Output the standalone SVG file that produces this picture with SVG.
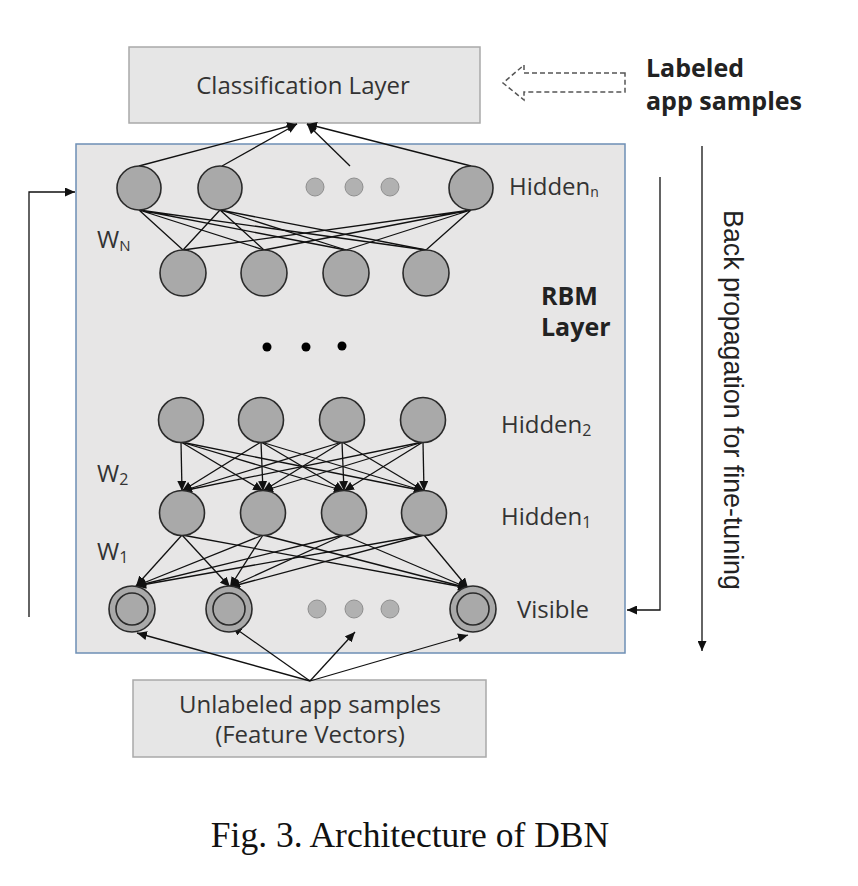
<svg xmlns="http://www.w3.org/2000/svg" width="858" height="886" viewBox="0 0 858 886">
<style>
.box{fill:#e6e6e6;stroke:#a9a9a9;stroke-width:1.5}
.rbm{fill:#e7e6e6;stroke:#6e8fb5;stroke-width:1.5}
.node{fill:#a9a9a9;stroke:#2a2a2a;stroke-width:1.6}
.dot{fill:#b1b1b1;stroke:#8f8f8f;stroke-width:1}
.e{stroke:#111;stroke-width:1.3;fill:none}
.ea{stroke:#111;stroke-width:1.3;fill:none;marker-end:url(#ah)}
.lbl{font-family:"Open Sans","Noto Sans",sans-serif;fill:#333;font-size:24px}
.bold{font-family:"Open Sans","Noto Sans",sans-serif;fill:#222;font-size:25px;font-weight:bold}
</style>
<defs>
<marker id="ah" markerUnits="userSpaceOnUse" markerWidth="11" markerHeight="9" refX="10" refY="4.5" orient="auto">
<path d="M0,0 L10,4.5 L0,9 z" fill="#111"/>
</marker>
</defs>

<g id="rbm-layer">
<rect class="rbm" x="76" y="144" width="549" height="509"/>
<text class="bold" x="541" y="305">RBM</text>
<text class="bold" x="541" y="336">Layer</text>
</g>

<g id="classification-layer">
<rect class="box" x="129" y="47" width="351" height="76"/>
<text class="lbl" x="303" y="94" text-anchor="middle" font-size="26">Classification Layer</text>
</g>

<g id="labeled-samples">
<polygon points="625,73 524,73 524,65 503,83 524,100 524,92 625,92" fill="none" stroke="#555" stroke-width="1.5" stroke-dasharray="5,3"/>
<text class="bold" x="646" y="77">Labeled</text>
<text class="bold" x="646" y="110">app samples</text>
</g>

<g id="unlabeled-samples">
<rect class="box" x="133" y="680" width="353" height="77"/>
<text class="lbl" x="310" y="713" text-anchor="middle" font-size="26">Unlabeled app samples</text>
<text class="lbl" x="310" y="743" text-anchor="middle" font-size="26">(Feature Vectors)</text>
</g>

<g id="connectors">
<path class="ea" d="M139,166 L297,124"/>
<path class="ea" d="M222,166 L297,124"/>
<path class="ea" d="M350,166 L307,124"/>
<path class="ea" d="M471,166 L307,124"/>
<path class="e" d="M139,210 L183,250 M139,210 L264,250 M139,210 L346,250 M139,210 L426,250"/>
<path class="e" d="M220,210 L183,250 M220,210 L264,250 M220,210 L346,250 M220,210 L426,250"/>
<path class="e" d="M471,210 L183,250 M471,210 L264,250 M471,210 L346,250 M471,210 L426,250"/>
<path class="ea" d="M181,442 L182,491"/><path class="ea" d="M181,442 L263,491"/><path class="ea" d="M181,442 L344,491"/><path class="ea" d="M181,442 L424,491"/>
<path class="ea" d="M261,442 L182,491"/><path class="ea" d="M261,442 L263,491"/><path class="ea" d="M261,442 L344,491"/><path class="ea" d="M261,442 L424,491"/>
<path class="ea" d="M342,442 L182,491"/><path class="ea" d="M342,442 L263,491"/><path class="ea" d="M342,442 L344,491"/><path class="ea" d="M342,442 L424,491"/>
<path class="ea" d="M423,442 L182,491"/><path class="ea" d="M423,442 L263,491"/><path class="ea" d="M423,442 L344,491"/><path class="ea" d="M423,442 L424,491"/>
<path class="ea" d="M182,535 L136,586"/><path class="ea" d="M182,535 L230,587"/><path class="ea" d="M182,535 L468,588"/>
<path class="ea" d="M263,535 L136,586"/><path class="ea" d="M263,535 L230,587"/><path class="ea" d="M263,535 L468,588"/>
<path class="ea" d="M344,535 L136,586"/><path class="ea" d="M344,535 L230,587"/><path class="ea" d="M344,535 L468,588"/>
<path class="ea" d="M424,535 L136,586"/><path class="ea" d="M424,535 L230,587"/><path class="ea" d="M424,535 L468,588"/>
<path class="ea" d="M310,681 L137,633"/>
<path class="ea" d="M310,681 L232,626"/>
<path class="ea" d="M310,681 L355,632"/>
<path class="ea" d="M310,681 L468,635"/>
<path class="ea" d="M29,617 V192 H75"/>
<path class="ea" d="M660,177 V610 H627"/>
<path class="ea" d="M702,146 V651"/>
</g>

<g id="hidden-n">
<circle class="node" cx="139" cy="188" r="22"/>
<circle class="node" cx="220" cy="188" r="22"/>
<circle class="dot" cx="315" cy="187" r="9"/>
<circle class="dot" cx="354" cy="187" r="9"/>
<circle class="dot" cx="390" cy="187" r="9"/>
<circle class="node" cx="471" cy="188" r="22"/>
<text class="lbl" x="509" y="195">Hidden<tspan font-size="14" dy="2">n</tspan></text>
</g>

<g id="hidden-n-minus-1">
<circle class="node" cx="183" cy="273" r="23"/>
<circle class="node" cx="264" cy="273" r="23"/>
<circle class="node" cx="346" cy="273" r="23"/>
<circle class="node" cx="426" cy="273" r="23"/>
<text class="lbl" x="97" y="248">W<tspan font-size="15" dy="3">N</tspan></text>
</g>

<g id="ellipsis">
<circle cx="267" cy="347" r="4.5" fill="#000"/>
<circle cx="306" cy="347" r="4.5" fill="#000"/>
<circle cx="342" cy="346" r="4.5" fill="#000"/>
</g>

<g id="hidden-2">
<circle class="node" cx="181" cy="420" r="22.5"/>
<circle class="node" cx="261" cy="420" r="22.5"/>
<circle class="node" cx="342" cy="420" r="22.5"/>
<circle class="node" cx="423" cy="420" r="22.5"/>
<text class="lbl" x="501" y="433">Hidden<tspan font-size="16" dy="3">2</tspan></text>
<text class="lbl" x="97" y="482">W<tspan font-size="16" dy="3">2</tspan></text>
</g>

<g id="hidden-1">
<circle class="node" cx="182" cy="513" r="22.5"/>
<circle class="node" cx="263" cy="513" r="22.5"/>
<circle class="node" cx="344" cy="513" r="22.5"/>
<circle class="node" cx="424" cy="513" r="22.5"/>
<text class="lbl" x="501" y="525">Hidden<tspan font-size="16" dy="3">1</tspan></text>
<text class="lbl" x="97" y="560">W<tspan font-size="16" dy="3">1</tspan></text>
</g>

<g id="visible">
<circle class="node" cx="132" cy="609" r="23"/>
<circle class="node" cx="132" cy="609" r="16"/>
<circle class="node" cx="229" cy="609" r="23"/>
<circle class="node" cx="229" cy="609" r="16"/>
<circle class="dot" cx="317" cy="609" r="9"/>
<circle class="dot" cx="354" cy="609" r="9"/>
<circle class="dot" cx="390" cy="609" r="9"/>
<circle class="node" cx="473" cy="609" r="23"/>
<circle class="node" cx="473" cy="609" r="16"/>
<text class="lbl" x="517" y="618">Visible</text>
</g>

<g id="backprop-label">
<text transform="translate(724,400) rotate(90)" text-anchor="middle" font-family="'Liberation Sans',Arial,sans-serif" font-size="26.8" fill="#222">Back propagation for fine-tuning</text>
</g>

<g id="caption">
<text x="410" y="847" text-anchor="middle" font-family="'Liberation Serif','Times New Roman',serif" font-size="35.5" fill="#111">Fig. 3. Architecture of DBN</text>
</g>
</svg>
